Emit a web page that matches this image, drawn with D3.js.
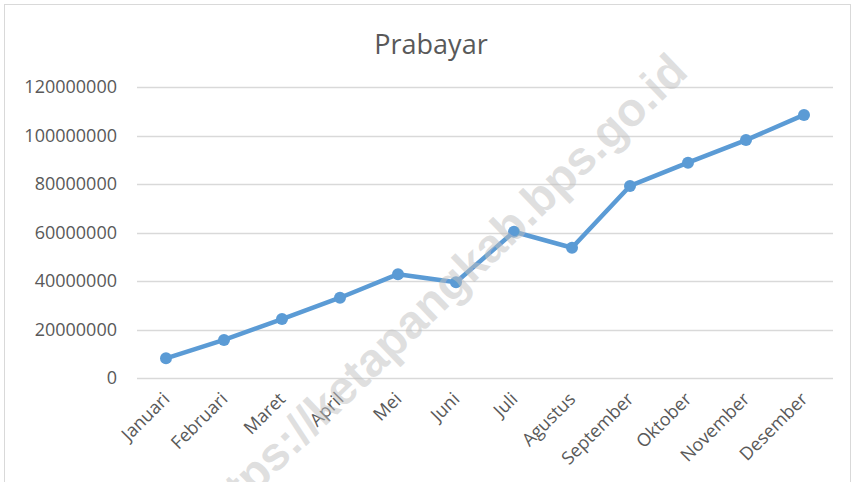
<!DOCTYPE html>
<html>
<head>
<meta charset="utf-8">
<script src="https://cdn.jsdelivr.net/npm/d3@7"></script>
<style>
  body { margin: 0; background: #fff; }
  svg { display: block; }
</style>
</head>
<body>
<div id="chart"></div>
<script>
// data
const months = ['Januari', 'Februari', 'Maret', 'April', 'Mei', 'Juni', 'Juli',
    'Agustus', 'September', 'Oktober', 'November', 'Desember'];
const prabayar = [8100000, 15700000, 24300000, 33100000, 42800000, 39500000,
    60300000, 53700000, 79200000, 88800000, 98100000, 108500000];
const yTicks = [0, 20000000, 40000000, 60000000, 80000000, 100000000, 120000000];
const chartTitle = 'Prabayar';
const watermark = 'https://ketapangkab.bps.go.id';

const w = 855;
const h = 482;
const margin = { top: 87, right: 22, bottom: 104, left: 137 };
const textColor = '#595959';
const font = "'Open Sans', sans-serif";

const svg = d3.select('#chart')
    .append('svg')
    .attr('width', w)
    .attr('height', h);

// chart area border (bottom edge runs off the picture)
svg.append('rect')
    .attr('x', 4.5).attr('y', 4.5)
    .attr('width', 846).attr('height', 500)
    .attr('fill', '#fff')
    .attr('stroke', '#d9d9d9');

const xScale = d3.scalePoint()
    .domain(months)
    .range([margin.left, w - margin.right])
    .padding(0.5);

const yScale = d3.scaleLinear()
    .domain([0, 120000000])
    .range([h - margin.bottom, margin.top]);

// gridlines
svg.append('g')
    .selectAll('line')
    .data(yTicks)
    .enter()
    .append('line')
    .attr('x1', margin.left)
    .attr('x2', w - margin.right)
    .attr('y1', (d) => Math.round(yScale(d)) + 0.5)
    .attr('y2', (d) => Math.round(yScale(d)) + 0.5)
    .attr('stroke', '#d9d9d9')
    .attr('stroke-width', 1.3);

// left axis labels only
const yAxis = d3.axisLeft(yScale)
    .tickValues(yTicks)
    .tickFormat(d3.format('d'))
    .tickSize(0)
    .tickPadding(20);

svg.append('g')
    .attr('transform', 'translate(' + margin.left + ', 0)')
    .call(yAxis)
    .call((g) => g.select('.domain').remove())
    .selectAll('text')
    .attr('fill', textColor)
    .style('font-family', font)
    .style('font-size', '18px');

// bottom axis labels, rotated
const xAxis = d3.axisBottom(xScale).tickSize(0);

svg.append('g')
    .attr('transform', 'translate(0, ' + (h - margin.bottom) + ')')
    .call(xAxis)
    .call((g) => g.select('.domain').remove())
    .selectAll('text')
    .attr('fill', textColor)
    .style('font-family', font)
    .style('font-size', '18px')
    .attr('text-anchor', 'end')
    .attr('dx', 0)
    .attr('dy', 0)
    .attr('transform', 'translate(2, 20) rotate(-45)');

// title
svg.append('text')
    .attr('x', 431)
    .attr('y', 54)
    .attr('text-anchor', 'middle')
    .attr('fill', textColor)
    .style('font-family', font)
    .style('font-size', '27px')
    .text(chartTitle);

// the line
const line = d3.line()
    .x((d, i) => xScale(months[i]))
    .y((d) => yScale(d));

svg.append('path')
    .datum(prabayar)
    .attr('fill', 'none')
    .attr('stroke', '#5b9bd5')
    .attr('stroke-width', 4.5)
    .attr('stroke-linejoin', 'round')
    .attr('d', line);

svg.selectAll('circle')
    .data(prabayar)
    .enter()
    .append('circle')
    .attr('cx', (d, i) => xScale(months[i]))
    .attr('cy', (d) => yScale(d))
    .attr('r', 6)
    .attr('fill', '#5b9bd5');

// watermark on top, semi transparent gray
svg.append('text')
    .attr('transform', 'translate(690, 74) rotate(-44)')
    .attr('text-anchor', 'end')
    .attr('fill', '#bfbfbf')
    .attr('fill-opacity', 0.5)
    .style('font-family', "'Liberation Sans', Arial, sans-serif")
    .style('font-weight', 'bold')
    .style('font-size', '47px')
    .text(watermark);
</script>
</body>
</html>
